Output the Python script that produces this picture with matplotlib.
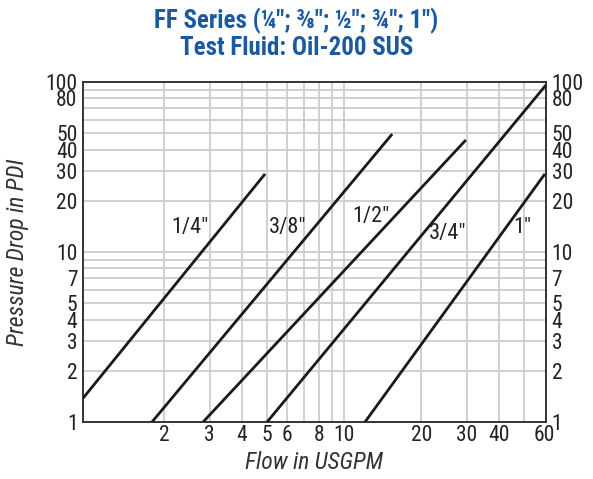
#!/usr/bin/env python3
"""FF Series pressure drop chart (oil, 200 SUS)"""

import matplotlib
matplotlib.use("Agg")
import matplotlib.pyplot as plt
from matplotlib.ticker import FixedLocator, NullFormatter

# line data: (flow USGPM, pressure drop PSI) at the two ends of each line
sizes = ['1/4"', '3/8"', '1/2"', '3/4"', '1"']
flow_start = [0.965, 1.79, 2.83, 5.02, 12.07]
flow_end = [4.93, 15.4, 29.8, 61.1, 60.5]
drop_start = [1.38, 1.0, 1.0, 1.0, 1.0]
drop_end = [28.8, 49.4, 45.6, 96.0, 28.8]

# where the size labels sit (flow, drop)
label_flow = [2.52, 6.05, 12.7, 25.2, 49.3]
label_drop = [14.0, 14.0, 16.1, 12.9, 14.0]

x_ticks = [2, 3, 4, 5, 6, 8, 10, 20, 30, 40, 60]
x_grid = [2, 3, 4, 5, 6, 7, 8, 9, 10, 20, 30, 40, 50]
y_ticks = [1, 2, 3, 4, 5, 7, 10, 20, 30, 40, 50, 80, 100]
y_grid = [2, 3, 4, 5, 6, 7, 8, 9, 10, 20, 30, 40, 50, 60, 70, 80, 90]

FONT = ['Roboto Condensed', 'Liberation Sans', 'DejaVu Sans']


def main():
    plt.rcParams['font.family'] = FONT
    fig = plt.figure(figsize=(5.93, 4.79), dpi=100)
    ax = fig.add_axes([83 / 593, 57 / 479, 463 / 593, 340 / 479])
    ax.set_xscale('log')
    ax.set_yscale('log')
    ax.set_xlim(0.965, 61.1)
    ax.set_ylim(1, 100)

    for xv in x_grid:
        ax.axvline(xv, color='#cdcdcd', lw=1.3, zorder=1)
    for yv in y_grid:
        ax.axhline(yv, color='#cdcdcd', lw=1.3, zorder=1)

    for i in range(len(sizes)):
        ax.plot([flow_start[i], flow_end[i]], [drop_start[i], drop_end[i]],
                color='#1a1a1a', lw=2.0, solid_capstyle='butt', zorder=3)
        ax.text(label_flow[i], label_drop[i], sizes[i], fontsize=16,
                ha='center', va='center', color='#222222', zorder=4)

    ax.xaxis.set_major_locator(FixedLocator(x_ticks))
    ax.xaxis.set_minor_formatter(NullFormatter())
    ax.set_xticklabels([str(v) for v in x_ticks])
    ax.yaxis.set_major_locator(FixedLocator(y_ticks))
    ax.yaxis.set_minor_formatter(NullFormatter())
    ax.set_yticklabels([str(v) for v in y_ticks])
    ax.tick_params(which='both', length=0, labelsize=15.5, colors='#222222',
                   pad=2)
    ax.tick_params(axis='y', labelright=True, right=True, pad=4)

    for sp in ax.spines.values():
        sp.set_color('#333333')
        sp.set_linewidth(1.4)

    ax.set_xlabel('Flow in USGPM', fontsize=17, style='italic',
                  color='#333333', labelpad=4)
    ax.set_ylabel('Pressure Drop in PDI', fontsize=17, style='italic',
                  color='#333333', labelpad=12)

    fig.text(0.5, 0.957, 'FF Series (\u00bc"; \u215c"; \u00bd"; \u00be"; 1")',
             ha='center', va='center', fontsize=18, fontweight='bold',
             color='#1b5aa0')
    fig.text(0.5, 0.9, 'Test Fluid: Oil-200 SUS', ha='center', va='center',
             fontsize=18, fontweight='bold', color='#1b5aa0')

    plt.savefig('out.png', dpi=100)


if __name__ == "__main__":
    main()
